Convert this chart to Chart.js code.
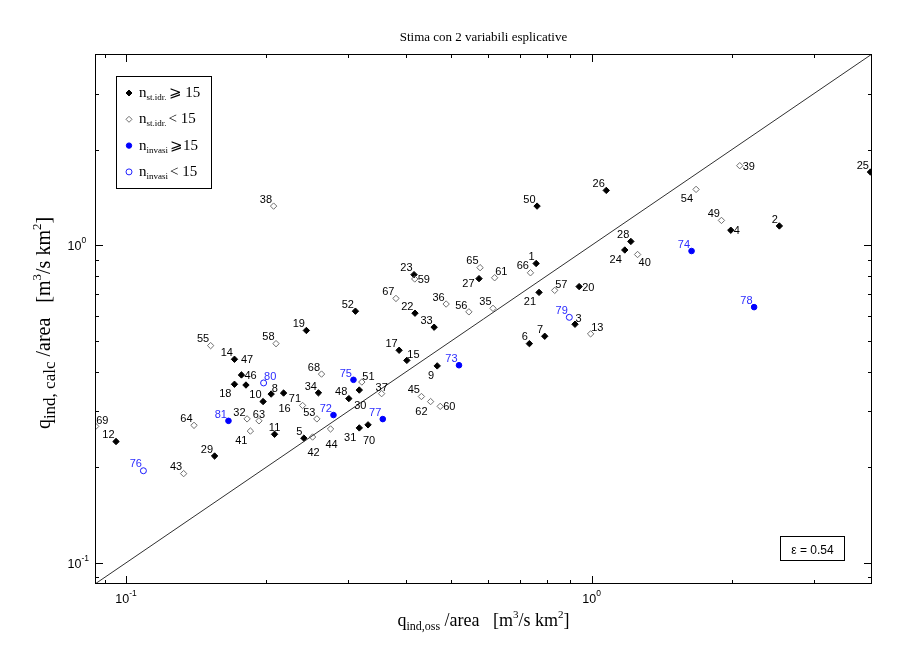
<!DOCTYPE html>
<html>
<head>
<meta charset="utf-8">
<script src="https://cdn.jsdelivr.net/npm/chart.js@4.4.1/dist/chart.umd.min.js"></script>
<style>
  html, body { margin: 0; padding: 0; background: #fff; }
  #wrap { width: 907px; height: 649px; }
</style>
</head>
<body>
<div id="wrap"><canvas id="chartStima"></canvas></div>
<script>
// stazioni idrometriche con n >= 15
const idIdrN = [1, 2, 3, 4, 5, 6, 7, 8, 9, 10, 11, 12, 14, 15, 16, 17, 18, 19, 20, 21, 22, 23, 24, 25, 26, 27, 28, 29, 30, 31, 33, 34, 46, 47, 48, 50, 52, 70];
const ossIdrN = [0.760, 2.53, 0.921, 1.99, 0.241, 0.735, 0.793, 0.205, 0.466, 0.197, 0.2085, 0.0952, 0.171, 0.401, 0.218, 0.386, 0.171, 0.244, 0.940, 0.771, 0.4175, 0.4155, 1.178, 3.97, 1.075, 0.573, 1.214, 0.155, 0.317, 0.317, 0.459, 0.259, 0.177, 0.181, 0.301, 0.7635, 0.311, 0.331];
const calcIdrN = [0.876, 1.15, 0.564, 1.115, 0.247, 0.490, 0.517, 0.340, 0.417, 0.322, 0.254, 0.241, 0.4375, 0.434, 0.3425, 0.467, 0.365, 0.539, 0.741, 0.7105, 0.611, 0.808, 0.966, 1.70, 1.488, 0.785, 1.028, 0.217, 0.350, 0.266, 0.552, 0.343, 0.3905, 0.363, 0.329, 1.328, 0.620, 0.272];

// stazioni idrometriche con n < 15
const idIdrP = [13, 32, 35, 36, 37, 38, 39, 40, 41, 42, 43, 44, 45, 49, 51, 53, 54, 55, 56, 57, 58, 59, 60, 61, 62, 63, 64, 65, 66, 67, 68, 69, 71];
const ossIdrP = [0.995, 0.182, 0.614, 0.487, 0.354, 0.2075, 2.08, 1.255, 0.185, 0.2516, 0.133, 0.275, 0.431, 1.90, 0.321, 0.257, 1.676, 0.152, 0.545, 0.833, 0.210, 0.417, 0.473, 0.619, 0.451, 0.193, 0.140, 0.576, 0.739, 0.380, 0.263, 0.0861, 0.2395];
const calcIdrP = [0.526, 0.284, 0.633, 0.653, 0.341, 1.328, 1.78, 0.935, 0.260, 0.249, 0.191, 0.264, 0.334, 1.197, 0.371, 0.284, 1.499, 0.483, 0.617, 0.721, 0.490, 0.783, 0.311, 0.790, 0.322, 0.280, 0.271, 0.850, 0.819, 0.680, 0.393, 0.269, 0.313];

// invasi con n >= 15
const idInvN = [72, 73, 74, 75, 77, 78, 81];
const ossInvN = [0.279, 0.519, 1.639, 0.308, 0.356, 2.233, 0.166];
const calcInvN = [0.292, 0.419, 0.959, 0.377, 0.2836, 0.6385, 0.280];

// invasi con n < 15
const idInvP = [76, 79, 80];
const ossInvP = [0.109, 0.8955, 0.1975];
const calcInvP = [0.195, 0.593, 0.3685];

const limiti = [0.0858, 4.0];
const tickMaggiori = [0.1, 1];
const tickMinori = [0.09, 0.2, 0.3, 0.4, 0.5, 0.6, 0.7, 0.8, 0.9, 2, 3, 4];
const etichetteTick = ['-1', '0'];
const errore = 0.54;

// dove mettere il numero rispetto al punto (default 'ul')
const posEtichetta = {
  3: 'ur', 4: 'r', 8: 'ur', 9: 'dl', 11: 'u', 13: 'ur', 15: 'ur', 16: 'd', 18: 'dl', 20: 'r',
  21: 'dl', 24: 'dl', 27: 'l', 30: 'd', 31: 'dl', 37: 'u', 39: 'r', 40: 'dr', 41: 'dl', 42: 'd',
  44: 'd', 46: 'r', 47: 'uu', 51: 'ur', 54: 'dl', 57: 'ur', 59: 'r', 60: 'r', 61: 'ur', 62: 'dl',
  63: 'u', 69: 'ur', 70: 'd', 80: 'ur'
};
const offsets = {
  ul: ['right', -1.5, -3.3], ur: ['left', 0.5, -2.5], r: ['left', 3, 4], l: ['right', -4.5, 8.5],
  u: ['center', 0, -3], d: ['center', 1, 19], dl: ['right', -3, 13], dr: ['left', 1, 11],
  uu: ['left', -5, -22]
};

function punti(xs, ys) {
  return xs.map((v, i) => ({ x: v, y: ys[i] }));
}

const SANS = '"Liberation Sans", Arial, sans-serif';
const SERIF = '"Liberation Serif", "Times New Roman", serif';

function testoRicco(ctx, parti, x, y, align) {
  let w = 0;
  parti.forEach(p => {
    ctx.font = p[1] + 'px ' + (p[3] || SERIF);
    w += ctx.measureText(p[0]).width;
  });
  let cx = align === 'center' ? x - w / 2 : (align === 'right' ? x - w : x);
  ctx.textAlign = 'left';
  ctx.textBaseline = 'alphabetic';
  parti.forEach(p => {
    ctx.font = p[1] + 'px ' + (p[3] || SERIF);
    ctx.fillText(p[0], cx, y + p[2]);
    cx += ctx.measureText(p[0]).width;
  });
}

function marker(ctx, tipo, x, y) {
  ctx.beginPath();
  ctx.lineWidth = 1;
  if (tipo === 0 || tipo === 1) {
    ctx.moveTo(x - 3, y); ctx.lineTo(x, y - 3); ctx.lineTo(x + 3, y); ctx.lineTo(x, y + 3);
    ctx.closePath();
  } else {
    ctx.arc(x, y, tipo === 2 ? 2.7 : 3, 0, Math.PI * 2);
  }
  if (tipo === 0) { ctx.fillStyle = '#000'; ctx.fill(); ctx.strokeStyle = '#000'; }
  if (tipo === 1) { ctx.strokeStyle = '#6e6e6e'; }
  if (tipo === 2) { ctx.fillStyle = '#0000ff'; ctx.fill(); ctx.strokeStyle = '#0000ff'; }
  if (tipo === 3) { ctx.strokeStyle = '#2020ff'; }
  ctx.stroke();
}

const etichettePlugin = {
  id: 'etichette',
  afterDatasetsDraw(chart) {
    const ctx = chart.ctx;
    ctx.save();
    ctx.font = '11px ' + SANS;
    ctx.textBaseline = 'alphabetic';
    chart.data.datasets.forEach((ds, i) => {
      if (!ds.ids) return;
      const meta = chart.getDatasetMeta(i);
      meta.data.forEach((el, j) => {
        const id = ds.ids[j];
        const o = offsets[posEtichetta[id] || 'ul'];
        ctx.fillStyle = ds.coloreTesto;
        ctx.textAlign = o[0];
        ctx.fillText(String(id), el.x + o[1], el.y + o[2]);
      });
    });
    ctx.restore();
  }
};

const assiPlugin = {
  id: 'assi',
  afterDraw(chart) {
    const ctx = chart.ctx;
    const a = chart.chartArea;
    const sx = chart.scales.x, sy = chart.scales.y;
    ctx.save();
    ctx.strokeStyle = '#000';
    ctx.lineWidth = 1;
    ctx.strokeRect(a.left + 0.5, a.top + 0.5, a.right - a.left - 1, a.bottom - a.top - 1);

    const tacca = (v, len) => {
      const px = Math.round(sx.getPixelForValue(v)) + 0.5;
      const py = Math.round(sy.getPixelForValue(v)) + 0.5;
      ctx.beginPath();
      if (px > a.left + 1 && px < a.right - 1) {
        ctx.moveTo(px, a.bottom); ctx.lineTo(px, a.bottom - len);
        ctx.moveTo(px, a.top); ctx.lineTo(px, a.top + len);
      }
      if (py > a.top + 1 && py < a.bottom - 1) {
        ctx.moveTo(a.left, py); ctx.lineTo(a.left + len, py);
        ctx.moveTo(a.right, py); ctx.lineTo(a.right - len, py);
      }
      ctx.stroke();
    };
    tickMaggiori.forEach(v => tacca(v, 8));
    tickMinori.forEach(v => tacca(v, 4));

    ctx.fillStyle = '#000';
    tickMaggiori.forEach((v, i) => {
      const px = sx.getPixelForValue(v);
      const py = sy.getPixelForValue(v);
      testoRicco(ctx, [['10', 12.5, 0, SANS], [etichetteTick[i], 8.5, -7, SANS]], px, 603, 'center');
      ctx.font = '12.5px ' + SANS;
      const w10 = ctx.measureText('10').width;
      testoRicco(ctx, [['10', 12.5, 0, SANS], [etichetteTick[i], 8.5, -7, SANS]], 81.5 - w10, py + 5, 'left');
    });

    // titoli degli assi
    testoRicco(ctx, [['q', 18, 0], ['ind,oss', 12, 4], [' /area   [m', 18, 0], ['3', 11, -8], ['/s km', 18, 0], ['2', 11, -8], [']', 18, 0]],
      (a.left + a.right) / 2, 626, 'center');
    ctx.save();
    ctx.translate(50, 323);
    ctx.rotate(-Math.PI / 2);
    testoRicco(ctx, [['q', 20, 0], ['ind, calc', 17, 5], [' /area   [m', 20, 0], ['3', 13, -9], ['/s km', 20, 0], ['2', 13, -9], [']', 20, 0]],
      0, 0, 'center');
    ctx.restore();

    // legenda
    ctx.strokeStyle = '#000';
    ctx.strokeRect(116.5, 76.5, 95, 112);
    const voci = [['st.idr.', '\u2A7E 15'], ['st.idr.', '< 15'], ['invasi', '\u2A7E15'], ['invasi', '< 15']];
    voci.forEach((v, i) => {
      const y = 93 + 26.3 * i;
      marker(ctx, i, 129, y);
      ctx.fillStyle = '#000';
      testoRicco(ctx, [['n', 15, 0], [v[0], 9, 3], [' ', 8, 0], [v[1], 15, 0]], 139, y + 4, 'left');
    });

    // errore
    ctx.strokeStyle = '#000';
    ctx.strokeRect(780.5, 536.5, 64, 24);
    ctx.fillStyle = '#000';
    ctx.font = '12px ' + SANS;
    ctx.textAlign = 'center';
    ctx.textBaseline = 'alphabetic';
    ctx.fillText('\u03B5 = ' + errore.toFixed(2), 812.5, 554);
    ctx.restore();
  }
};

const config = {
  type: 'scatter',
  data: {
    datasets: [
      {
        type: 'line',
        data: [{ x: limiti[0], y: limiti[0] }, { x: limiti[1], y: limiti[1] }],
        borderColor: '#303030',
        borderWidth: 1,
        pointRadius: 0,
        fill: false
      },
      {
        ids: idIdrP, coloreTesto: '#000',
        data: punti(ossIdrP, calcIdrP),
        pointStyle: 'rectRot', pointRadius: 3.2, pointBorderWidth: 1,
        pointBackgroundColor: 'rgba(255,255,255,0)', pointBorderColor: '#6e6e6e'
      },
      {
        ids: idIdrN, coloreTesto: '#000',
        data: punti(ossIdrN, calcIdrN),
        pointStyle: 'rectRot', pointRadius: 3.2, pointBorderWidth: 1,
        pointBackgroundColor: '#000', pointBorderColor: '#000'
      },
      {
        ids: idInvP, coloreTesto: '#2b2bff',
        data: punti(ossInvP, calcInvP),
        pointStyle: 'circle', pointRadius: 3, pointBorderWidth: 1,
        pointBackgroundColor: 'rgba(255,255,255,0)', pointBorderColor: '#1a1aff'
      },
      {
        ids: idInvN, coloreTesto: '#2b2bff',
        data: punti(ossInvN, calcInvN),
        pointStyle: 'circle', pointRadius: 2.8, pointBorderWidth: 1,
        pointBackgroundColor: '#0000ff', pointBorderColor: '#0000ff'
      }
    ]
  },
  options: {
    responsive: true,
    maintainAspectRatio: false,
    animation: false,
    layout: { padding: { left: 95, right: 35, top: 0, bottom: 65 } },
    scales: {
      x: { type: 'logarithmic', min: limiti[0], max: limiti[1], display: false },
      y: { type: 'logarithmic', min: limiti[0], max: limiti[1], display: false }
    },
    plugins: {
      legend: { display: false },
      tooltip: { enabled: false },
      title: {
        display: true,
        text: 'Stima con 2 variabili esplicative',
        color: '#000',
        font: { family: SERIF, size: 13, weight: 'normal' },
        padding: { top: 30, bottom: 8.4 }
      }
    }
  },
  plugins: [etichettePlugin, assiPlugin]
};

let canvasStima = document.getElementById('chartStima');
let oChartStima = new Chart(canvasStima, config);
</script>
</body>
</html>
